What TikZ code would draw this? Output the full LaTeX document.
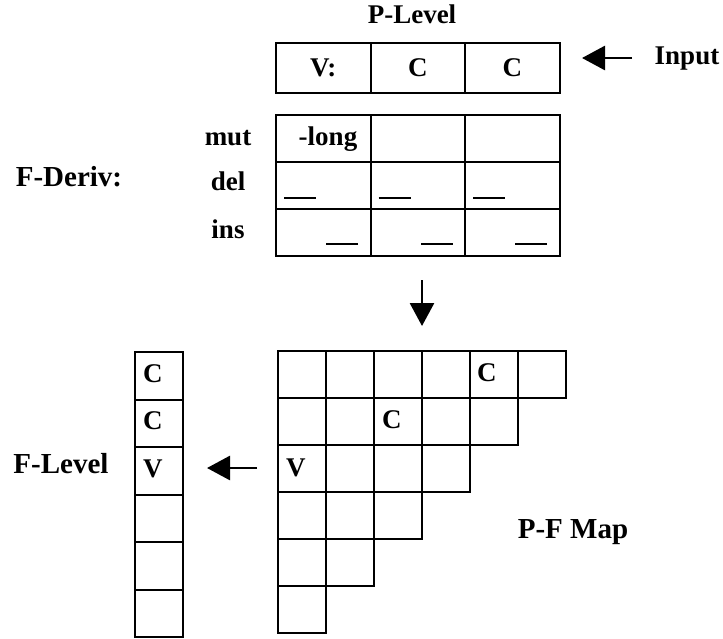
\documentclass[tikz,border=0pt]{standalone}
\usepackage{fontspec}
\setmainfont{Liberation Serif}
\usetikzlibrary{arrows.meta}
\begin{document}
\begin{tikzpicture}[x=1pt,y=-1pt,
  every node/.style={font=\fontsize{27}{30}\bfseries\selectfont, inner sep=0pt},
  big/.style={font=\fontsize{29}{32}\bfseries\selectfont},
  cell/.style={draw, line width=2pt, rectangle, minimum width=#1, minimum height=47pt},
  lbl/.style={anchor=base},
  ltr/.style={anchor=base west},
  dsh/.style={line width=2.6pt},
  arr/.style={line width=2.8pt, -{Triangle[length=23pt,width=24pt]}}]
\useasboundingbox (0,0) rectangle (723,638);
% P-Level row
\node[lbl] (plevel) at (412,23) {P-Level};
\node[cell=94.5pt, minimum height=50pt] (p1) at (323.25,68) {V:};
\node[cell=94.5pt, minimum height=50pt] (p2) at (417.75,68) {C};
\node[cell=94.5pt, minimum height=50pt] (p3) at (512.25,68) {C};
\node[lbl] (input) at (687,64) {Input};
\coordinate (inA) at (632,58);
\coordinate (inB) at (582,58);
\draw[arr] (inA) -- (inB);
% F-Deriv grid
\node[lbl, big] (fderiv) at (69,186) {F-Deriv:};
\node[lbl] (mut) at (228,145) {mut};
\node[lbl] (del) at (228,190) {del};
\node[lbl] (ins) at (228,238) {ins};
\foreach \c/\x in {1/323.25,2/417.75,3/512.25}{
  \node[cell=94.5pt] (m\c) at (\x,138.5) {};
  \node[cell=94.5pt] (d\c) at (\x,185.5) {};
  \node[cell=94.5pt] (i\c) at (\x,232.5) {};
  \draw[dsh] ([xshift=9pt,yshift=12pt]d\c.south west) -- ++(32,0);
  \draw[dsh] ([xshift=-13.5pt,yshift=13pt]i\c.south east) -- ++(-32,0);
}
\node[anchor=base] (long) at (328,145) {-long};
% down arrow
\coordinate (dA) at (422,280);
\coordinate (dB) at (422,326);
\draw[arr] (dA) -- (dB);
% P-F map
\foreach \r in {0,...,5}{
  \pgfmathtruncatemacro{\n}{5-\r}
  \foreach \c in {0,...,\n}{
    \node[cell=48pt, anchor=north west] (pf\r\c) at ({277+48*\c},{350+47*\r}) {};
  }
}
\node[ltr] (pfC1) at ([xshift=8pt,yshift=-31pt]pf04.north west) {C};
\node[ltr] (pfC2) at ([xshift=9pt,yshift=-31pt]pf12.north west) {C};
\node[ltr] (pfV) at ([xshift=9pt,yshift=-32pt]pf20.north west) {V};
\node[lbl, big] (pfmap) at (573,538) {P-F Map};
% F-Level column
\foreach \r in {0,...,5}{
  \node[cell=48pt, minimum height=47.5pt, anchor=north west] (fl\r) at (134,{351+47.5*\r}) {};
}
\node[ltr] (flC1) at ([xshift=9pt,yshift=-31pt]fl0.north west) {C};
\node[ltr] (flC2) at ([xshift=9pt,yshift=-31pt]fl1.north west) {C};
\node[ltr] (flV) at ([xshift=9pt,yshift=-31pt]fl2.north west) {V};
\node[lbl, big] (flevel) at (61,473) {F-Level};
\coordinate (lA) at (257,468);
\coordinate (lB) at (207,468);
\draw[arr] (lA) -- (lB);
\end{tikzpicture}
\end{document}
